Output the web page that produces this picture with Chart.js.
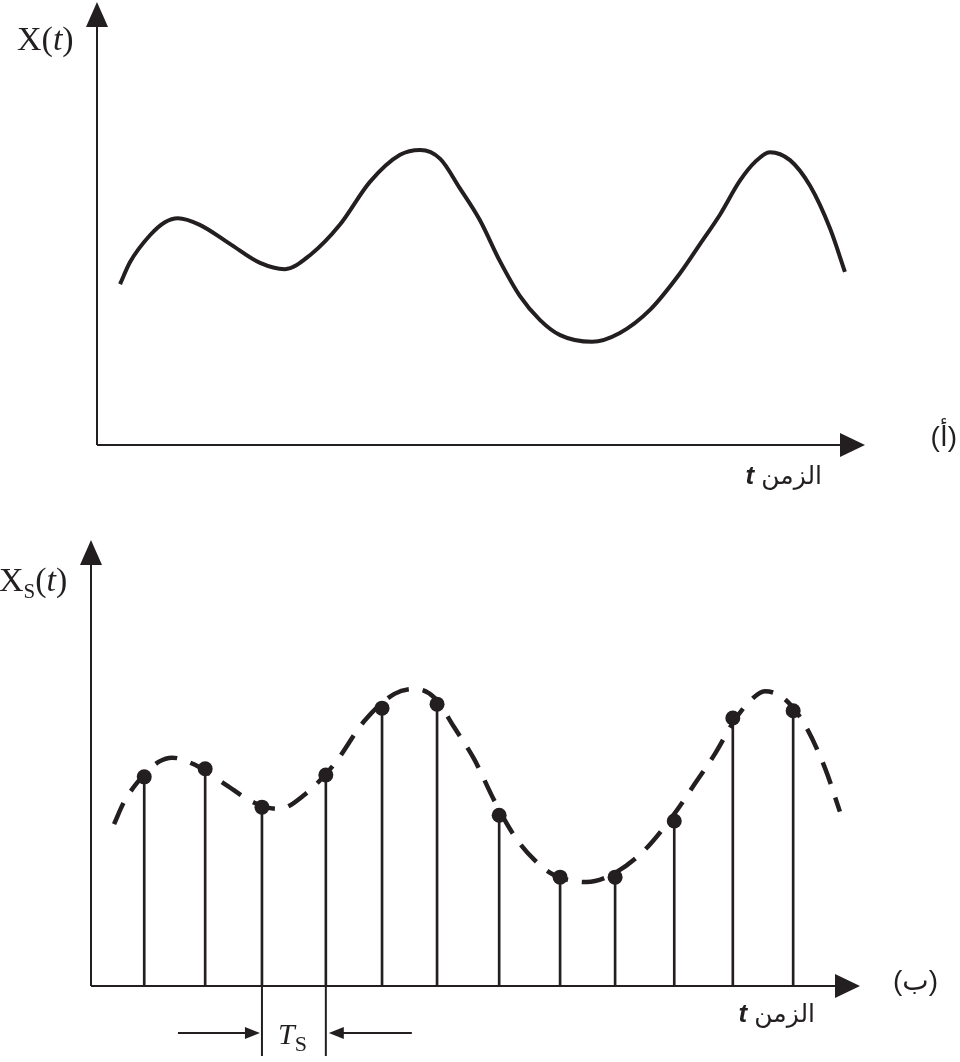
<!DOCTYPE html>
<html lang="ar">
<head>
<meta charset="utf-8">
<script src="https://cdn.jsdelivr.net/npm/chart.js"></script>
<style>
  html, body { margin: 0; padding: 0; background: #fff; }
  #wrap { position: relative; width: 960px; height: 1062px; overflow: hidden; }
  canvas { position: absolute; left: 0; }
  .lbl { position: absolute; white-space: nowrap; color: #231f20; }
  .serif { font-family: "Liberation Serif", "DejaVu Serif", serif; font-size: 34px; line-height: 34px; }
  .serif sub { font-size: 21px; vertical-align: -7px; line-height: 0; }
  .ar { font-family: "Liberation Sans", "DejaVu Sans", sans-serif; font-size: 25px; line-height: 25px; }
  .ar b { font-style: italic; font-size: 26px; }
  .tag { font-family: "Liberation Sans", "DejaVu Sans", sans-serif; font-size: 28px; line-height: 28px; }
</style>
</head>
<body>
<div id="wrap">
  <canvas id="topChart" width="960" height="520" style="top:0"></canvas>
  <canvas id="bottomChart" width="960" height="542" style="top:520px"></canvas>

  <div class="lbl serif" style="left:17px; top:22px">X(<i>t</i>)</div>
  <div class="lbl serif" style="left:-1px; top:563px">X<sub>S</sub>(<i>t</i>)</div>
  <div class="lbl serif" style="left:278px; top:1019px; font-size:30px; line-height:30px"><i>T</i><sub style="font-size:22px">S</sub></div>

  <div class="lbl ar" dir="rtl" style="right:138px; top:463px">الزمن <b>t</b></div>
  <div class="lbl ar" dir="rtl" style="right:145px; top:1001px">الزمن <b>t</b></div>
  <div class="lbl tag" dir="rtl" style="right:3px; top:423px">(أ)</div>
  <div class="lbl tag" dir="rtl" style="right:22px; top:967px">(ب)</div>
</div>

<script>
// continuous signal x(t), time in units of the sampling period Ts
const curveT = [0.39, 0.56, 0.90, 1.15, 1.37, 1.74, 2.25, 2.76, 3.18, 3.61, 4.11, 4.62, 5.13, 5.47, 5.81, 6.14,
    6.48, 6.82, 7.16, 7.50, 7.84, 8.38, 8.85, 9.36, 9.86, 10.21, 10.55, 10.88, 11.14, 11.39, 11.73, 12.07, 12.41, 12.66];
const curveAmp = [3.63, 4.13, 4.74, 5.03, 5.12, 4.97, 4.54, 4.11, 3.97, 4.29, 4.97, 5.94, 6.55, 6.66, 6.46, 5.80,
    5.08, 4.15, 3.36, 2.82, 2.48, 2.33, 2.53, 3.05, 3.86, 4.54, 5.21, 5.96, 6.39, 6.61, 6.43, 5.85, 4.88, 3.91];

// sampled signal xs(t)
const sampleT = [0.90, 1.93, 2.89, 3.97, 4.92, 5.85, 6.90, 7.93, 8.86, 9.86, 10.85, 11.87];
const sampleAmp = [4.69, 4.87, 4.01, 4.73, 6.23, 6.32, 3.83, 2.44, 2.44, 3.70, 6.01, 6.17];

// the two samples marked with the Ts spacing
const periodMarks = [2, 3];

const ink = "#231f20";

const curvePoints = curveT.map((t, i) => ({ x: t, y: curveAmp[i] }));
const samplePoints = sampleT.map((t, i) => ({ x: t, y: sampleAmp[i] }));

function arrowHead(ctx, x, y, dir, len, half) {
    ctx.beginPath();
    ctx.moveTo(x, y);
    if (dir === "up") {
        ctx.lineTo(x - half, y + len);
        ctx.lineTo(x + half, y + len);
    } else if (dir === "right") {
        ctx.lineTo(x - len, y - half);
        ctx.lineTo(x - len, y + half);
    } else {
        ctx.lineTo(x + len, y - half);
        ctx.lineTo(x + len, y + half);
    }
    ctx.closePath();
    ctx.fill();
}

// axes with arrow heads, drawn at the edges of the chart area
const axesPlugin = {
    id: "axes",
    beforeDatasetsDraw(chart) {
        const { ctx, chartArea: a } = chart;
        ctx.save();
        ctx.strokeStyle = ink;
        ctx.fillStyle = ink;
        ctx.lineWidth = 2;
        ctx.beginPath();
        ctx.moveTo(a.left, a.bottom);
        ctx.lineTo(a.left, a.top + 20);
        ctx.moveTo(a.left, a.bottom);
        ctx.lineTo(a.right - 20, a.bottom);
        ctx.stroke();
        arrowHead(ctx, a.left, a.top, "up", 25, 11);
        arrowHead(ctx, a.right, a.bottom, "right", 25, 12);
        ctx.restore();
    }
};

// Ts marker below the time axis
const periodPlugin = {
    id: "period",
    afterDatasetsDraw(chart) {
        const { ctx, chartArea: a, scales } = chart;
        const x1 = scales.x.getPixelForValue(sampleT[periodMarks[0]]);
        const x2 = scales.x.getPixelForValue(sampleT[periodMarks[1]]);
        const y = a.bottom + 47;
        ctx.save();
        ctx.strokeStyle = ink;
        ctx.fillStyle = ink;
        ctx.lineWidth = 2;
        ctx.beginPath();
        ctx.moveTo(x1, a.bottom);
        ctx.lineTo(x1, a.bottom + 70);
        ctx.moveTo(x2, a.bottom);
        ctx.lineTo(x2, a.bottom + 70);
        ctx.moveTo(x1 - 84, y);
        ctx.lineTo(x1 - 14, y);
        ctx.moveTo(x2 + 86, y);
        ctx.lineTo(x2 + 16, y);
        ctx.stroke();
        arrowHead(ctx, x1 - 2, y, "right", 15, 6);
        arrowHead(ctx, x2 + 3, y, "left", 15, 6);
        ctx.restore();
    }
};

function baseOptions(padding) {
    return {
        responsive: false,
        animation: false,
        layout: { padding: padding },
        plugins: {
            legend: { display: false },
            tooltip: { enabled: false }
        },
        scales: {
            x: { type: "linear", min: 0, max: 13, offset: false, display: false },
            y: { min: 0, max: 10, display: false }
        }
    };
}

new Chart(document.getElementById("topChart"), {
    type: "line",
    data: {
        datasets: [{
            data: curvePoints,
            borderColor: ink,
            borderWidth: 4,
            pointRadius: 0,
            cubicInterpolationMode: "monotone",
            fill: false
        }]
    },
    options: baseOptions({ left: 97, right: 95, top: 2, bottom: 75 }),
    plugins: [axesPlugin]
});

new Chart(document.getElementById("bottomChart"), {
    type: "line",
    data: {
        datasets: [
            {
                type: "line",
                data: samplePoints,
                showLine: false,
                pointRadius: 7.5,
                pointBackgroundColor: ink,
                pointBorderWidth: 0,
                order: 1
            },
            {
                type: "bar",
                data: samplePoints,
                backgroundColor: ink,
                barThickness: 2,
                borderWidth: 0,
                order: 2
            },
            {
                type: "line",
                data: curvePoints,
                borderColor: ink,
                borderWidth: 4.5,
                borderDash: [23, 14],
                pointRadius: 0,
                cubicInterpolationMode: "monotone",
                fill: false,
                order: 3
            }
        ]
    },
    options: baseOptions({ left: 91, right: 100, top: 20, bottom: 76 }),
    plugins: [axesPlugin, periodPlugin]
});
</script>
</body>
</html>
